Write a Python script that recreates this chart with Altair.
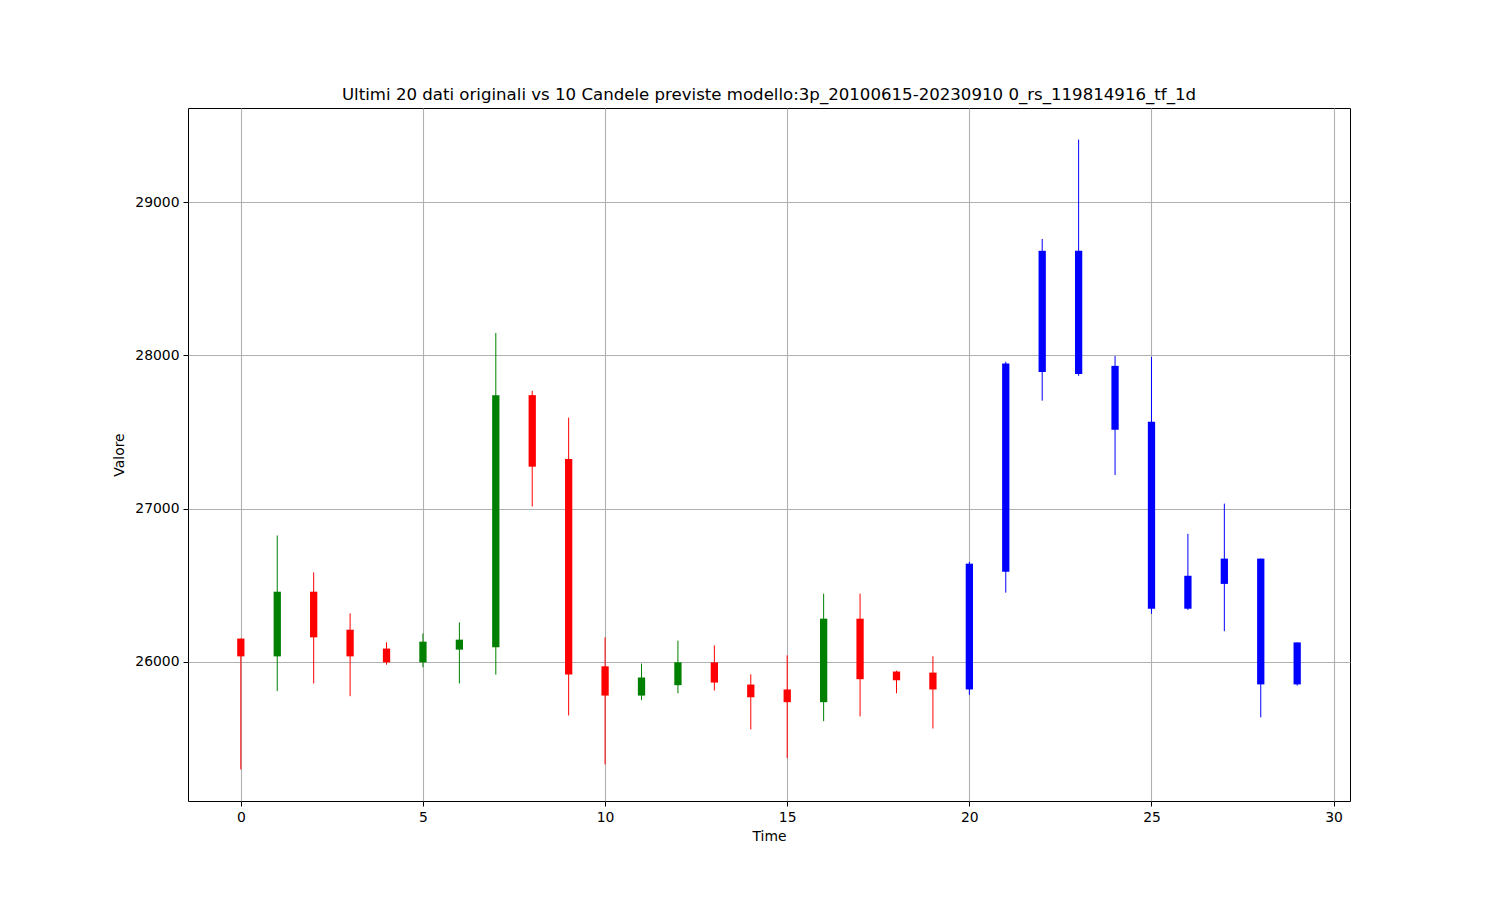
import altair as alt
import pandas as pd

# Candle data
time = list(range(30))
open_ = [26152, 26036, 26458, 26210, 26087, 25997, 26080, 26095, 27741, 27324,
         25971, 25780, 25848, 25997, 25852, 25820, 25737, 26282, 25937, 25930,
         25820, 26589, 27892, 27879, 27932, 27567, 26347, 26509, 26674, 25853]
close = [26036, 26458, 26160, 26036, 25997, 26132, 26145, 27741, 27274, 25917,
         25780, 25898, 25997, 25865, 25769, 25737, 26282, 25887, 25880, 25820,
         26641, 27947, 28683, 28683, 27515, 26347, 26562, 26674, 25853, 26127]
high = [26152, 26825, 26584, 26317, 26128, 26186, 26258, 28147, 27769, 27594,
        26160, 25989, 26139, 26108, 25919, 26043, 26445, 26445, 25943, 26037,
        26653, 27959, 28760, 29409, 27996, 27991, 26836, 27033, 26674, 26127]
low = [25298, 25809, 25859, 25776, 25982, 25965, 25859, 25917, 27014, 25650,
       25331, 25750, 25795, 25813, 25559, 25372, 25613, 25644, 25795, 25565,
       25785, 26452, 27705, 27867, 27220, 26314, 26339, 26200, 25638, 25845]
n_original = 20

df = pd.DataFrame({"t": time, "open": open_, "close": close, "high": high, "low": low})
df["kind"] = [
    ("pred" if i >= n_original else ("up" if c > o else "down"))
    for i, (o, c) in enumerate(zip(open_, close))
]

color = alt.Color("kind:N",
                  scale=alt.Scale(domain=["up", "down", "pred"], range=["green", "red", "blue"]),
                  legend=None)

xscale = alt.Scale(domain=[-1.45, 30.45], nice=False, zero=False)
yscale = alt.Scale(domain=[25092, 29615], nice=False, zero=False)

base = alt.Chart(df)

wicks = base.mark_rule(strokeWidth=1).encode(
    x=alt.X("t:Q", scale=xscale,
            axis=alt.Axis(values=[0, 5, 10, 15, 20, 25, 30], title="Time", format="d")),
    y=alt.Y("low:Q", scale=yscale,
            axis=alt.Axis(values=[26000, 27000, 28000, 29000], title="Valore", format="d")),
    y2="high:Q",
    color=color,
)

bodies = base.transform_calculate(
    x0="datum.t - 0.1", x1="datum.t + 0.1"
).mark_rect().encode(
    x=alt.X("x0:Q", scale=xscale),
    x2="x1:Q",
    y=alt.Y("open:Q", scale=yscale),
    y2="close:Q",
    color=color,
)

chart = alt.layer(wicks, bodies).properties(
    width=1162,
    height=693,
    title=alt.TitleParams(
        "Ultimi 20 dati originali vs 10 Candele previste modello:3p_20100615-20230910 0_rs_119814916_tf_1d",
        fontSize=16.6, font="DejaVu Sans", fontWeight="normal", color="black", offset=4,
    ),
    autosize=alt.AutoSizeParams(type="none"),
    padding={"left": 180, "top": 100, "right": 142, "bottom": 90},
    background="white",
).configure_view(
    stroke="black", strokeWidth=1,
).configure_axis(
    domain=False,
    grid=True,
    gridColor="#b0b0b0",
    gridWidth=1.1,
    tickColor="black",
    tickSize=5,
    tickWidth=1,
    labelFont="DejaVu Sans",
    labelFontSize=13.9,
    labelColor="black",
    labelPadding=4,
    titleFont="DejaVu Sans",
    titleFontSize=13.9,
    titleFontWeight="normal",
    titleColor="black",
).configure_axisY(
    titlePadding=8,
).configure_axisX(
    titlePadding=6,
)

chart.save("out.html", embed_options={"renderer": "svg", "actions": False})
